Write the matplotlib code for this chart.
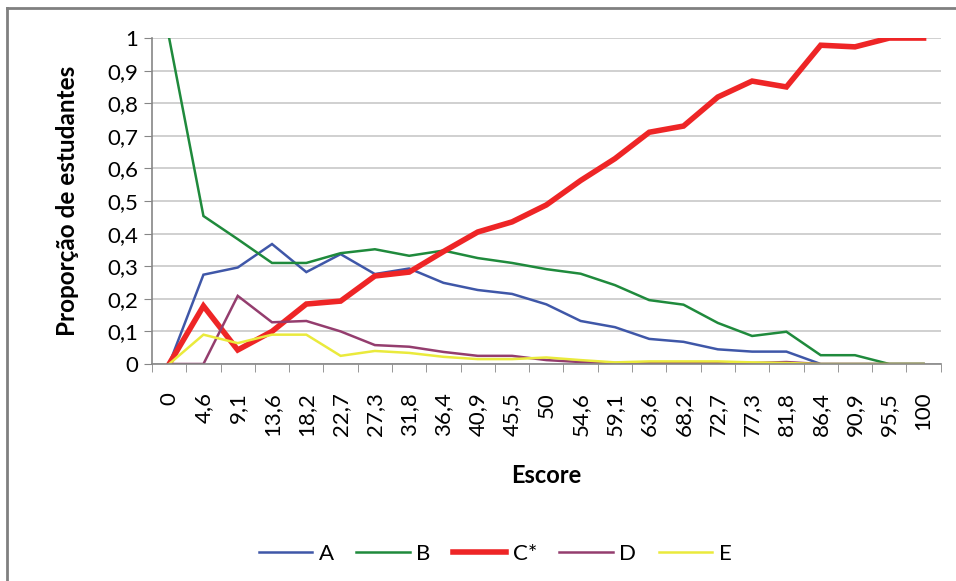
import numpy as np
import matplotlib
matplotlib.use("Agg")
import matplotlib.pyplot as plt
from matplotlib.lines import Line2D

plt.rcParams['font.family'] = ['Lato', 'DejaVu Sans']

# escores (categorias do eixo x)
escores = ['0', '4,6', '9,1', '13,6', '18,2', '22,7', '27,3', '31,8', '36,4', '40,9',
           '45,5', '50', '54,6', '59,1', '63,6', '68,2', '72,7', '77,3', '81,8',
           '86,4', '90,9', '95,5', '100']

# proporção de estudantes por alternativa
prop_a = [0, 0.274, 0.296, 0.368, 0.282, 0.337, 0.276, 0.293, 0.249, 0.227, 0.215,
          0.183, 0.132, 0.113, 0.077, 0.068, 0.045, 0.038, 0.038, 0, 0, 0, 0]
prop_b = [1.0, 0.454, 0.383, 0.310, 0.310, 0.340, 0.352, 0.332, 0.348, 0.325, 0.310,
          0.291, 0.277, 0.242, 0.196, 0.182, 0.126, 0.086, 0.099, 0.027, 0.027, 0, 0]
prop_c = [0, 0.178, 0.043, 0.100, 0.184, 0.193, 0.270, 0.282, 0.345, 0.405, 0.436,
          0.488, 0.563, 0.630, 0.711, 0.730, 0.819, 0.868, 0.850, 0.978, 0.973, 1.0, 1.0]
prop_d = [0, 0, 0.209, 0.128, 0.132, 0.100, 0.058, 0.053, 0.037, 0.025, 0.025,
          0.012, 0.006, 0.003, 0.003, 0.003, 0.003, 0.003, 0.006, 0, 0, 0, 0]
prop_e = [0, 0.090, 0.064, 0.090, 0.090, 0.025, 0.040, 0.034, 0.022, 0.015, 0.015,
          0.020, 0.012, 0.005, 0.008, 0.008, 0.008, 0.005, 0.003, 0, 0, 0, 0]

series = [
    ('A', prop_a, '#3F57A8', 1.8),
    ('B', prop_b, '#1F8A3C', 1.8),
    ('C*', prop_c, '#EE2526', 4.0),
    ('D', prop_d, '#943D6E', 1.8),
    ('E', prop_e, '#EAEA3C', 1.8),
]

fig = plt.figure(figsize=(9.56, 5.81), dpi=100)
ax = fig.add_axes([0.159, 0.3735, 0.825, 0.561])

x = np.arange(len(escores))
for name, vals, cor, lw in series:
    ax.plot(x, vals, color=cor, linewidth=lw, label=name, solid_joinstyle='miter')

ax.set_xlim(-0.5, len(escores) - 0.5)
ax.set_ylim(0, 1)
ax.set_yticks(np.arange(0, 1.01, 0.1))
ax.set_yticklabels(['0'] + [f'0,{i}' for i in range(1, 10)] + ['1'], fontsize=16)
ax.set_xticks(x)
ax.set_xticklabels(escores, rotation=90, fontsize=16)
ax.set_xticks(np.arange(-0.5, len(escores), 1), minor=True)
ax.tick_params(axis='x', which='major', length=0, pad=20)
ax.tick_params(axis='x', which='minor', length=6, color='#868686')
ax.tick_params(axis='y', length=6, color='#868686', pad=4)

ax.grid(axis='y', color='#C8C8C8', linewidth=1.2)
ax.set_axisbelow(True)
for s in ['top', 'right']:
    ax.spines[s].set_visible(False)
for s in ['left', 'bottom']:
    ax.spines[s].set_color('#868686')
    ax.spines[s].set_linewidth(1.2)

ax.set_ylabel('Proporção de estudantes', fontsize=17.5, fontweight='bold', labelpad=20)
ax.set_xlabel('Escore', fontsize=17, fontweight='bold', labelpad=20)

ax.legend(loc='upper center', bbox_to_anchor=(0.435, -0.49), ncol=5, frameon=False,
          fontsize=16, handlelength=2.4, columnspacing=1.0, handletextpad=0.3)

# moldura do gráfico (só topo e esquerda visíveis)
fig.add_artist(Line2D([7 / 956, 7 / 956], [0, 1 - 8 / 581], color='#808080',
                      linewidth=2, transform=fig.transFigure))
fig.add_artist(Line2D([7 / 956, 1], [1 - 8 / 581, 1 - 8 / 581], color='#808080',
                      linewidth=2, transform=fig.transFigure))

fig.savefig('out.png', dpi=100)
